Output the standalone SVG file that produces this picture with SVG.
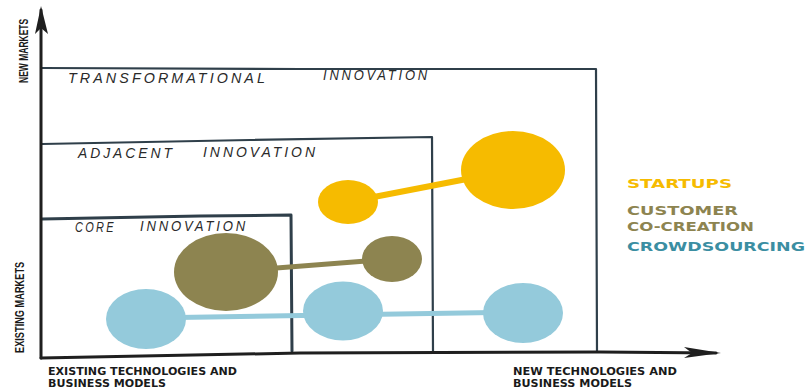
<svg xmlns="http://www.w3.org/2000/svg" width="806" height="389" viewBox="0 0 806 389">
<defs>
<style>
.axis{stroke:#1f1f1f;stroke-width:3;fill:none;stroke-linecap:round}
.box{stroke:#2f3f4a;stroke-width:2.2;fill:none;stroke-linecap:round;stroke-linejoin:round}
.hand{font-family:"Liberation Sans",Arial,sans-serif;font-style:italic;font-size:14px;fill:#2a2a2a;letter-spacing:3px}
.ax{font-family:"Liberation Sans",Arial,sans-serif;font-weight:bold;font-size:13px;fill:#1a1a1a}
.bot{font-family:"DejaVu Sans","Liberation Sans",sans-serif;font-weight:bold;font-size:10.5px;fill:#1a1a1a}
.leg{font-family:"DejaVu Sans","Liberation Sans",sans-serif;font-weight:bold;font-size:13px}
.yel{fill:#F6BB00}.oli{fill:#8D8450}.blu{fill:#94CADB}
.cy{stroke:#F6BB00;stroke-width:6}.co{stroke:#8D8450;stroke-width:5}.cb{stroke:#94CADB;stroke-width:5}
</style>
</defs>
<rect width="806" height="389" fill="#ffffff"/>
<g id="boxes">
<path class="box" d="M42 68 L300 69 L596 69 L597 352 L603 352"/>
<path class="box" d="M42 144 L250 140 L432 137 L433 352"/>
<path class="box" d="M42 219 L200 216 L291 215 L292 351" style="stroke-width:3"/>
</g>
<g id="axes">
<path class="axis" d="M41 358 L41 10"/>
<path d="M41 6 L35 34 L41 28 L48 34 Z" fill="#1f1f1f"/>
<path class="axis" d="M41 358 L300 353 L600 352 L716 353"/>
<path d="M721 353 L684 347 L692 353 L684 358 Z" fill="#1f1f1f"/>
</g>
<g id="box-labels">
<text class="hand" x="68" y="83" textLength="200" lengthAdjust="spacingAndGlyphs">TRANSFORMATIONAL</text>
<text class="hand" x="323" y="80" textLength="107" lengthAdjust="spacingAndGlyphs">INNOVATION</text>
<text class="hand" x="78" y="158" textLength="97" lengthAdjust="spacingAndGlyphs">ADJACENT</text>
<text class="hand" x="203" y="157" textLength="115" lengthAdjust="spacingAndGlyphs">INNOVATION</text>
<text class="hand" x="75" y="232" textLength="41" lengthAdjust="spacingAndGlyphs">CORE</text>
<text class="hand" x="140" y="231" textLength="108" lengthAdjust="spacingAndGlyphs">INNOVATION</text>
</g>
<g id="axis-labels">
<text class="ax" transform="translate(28 83) rotate(-90) scale(0.655 1)" textLength="98" lengthAdjust="spacingAndGlyphs">NEW MARKETS</text>
<text class="ax" transform="translate(23.5 353) rotate(-90) scale(0.656 1)" textLength="139" lengthAdjust="spacingAndGlyphs">EXISTING MARKETS</text>
<text class="bot" x="48" y="375" textLength="189" lengthAdjust="spacingAndGlyphs">EXISTING TECHNOLOGIES AND</text>
<text class="bot" x="48" y="387" textLength="118" lengthAdjust="spacingAndGlyphs">BUSINESS MODELS</text>
<text class="bot" x="513" y="375" textLength="164" lengthAdjust="spacingAndGlyphs">NEW TECHNOLOGIES AND</text>
<text class="bot" x="513" y="387" textLength="119" lengthAdjust="spacingAndGlyphs">BUSINESS MODELS</text>
</g>
<g id="connectors">
<line class="cy" x1="348" y1="202" x2="513" y2="170"/>
<line class="co" x1="226" y1="272" x2="392" y2="259"/>
<line class="cb" x1="146" y1="318" x2="523" y2="312"/>
</g>
<g id="startups-small"><ellipse class="yel" cx="348" cy="202" rx="30" ry="22"/></g>
<g id="startups-large"><ellipse class="yel" cx="513" cy="170" rx="52" ry="39"/></g>
<g id="cocreation-large"><ellipse class="oli" cx="226" cy="272" rx="52" ry="39"/></g>
<g id="cocreation-small"><ellipse class="oli" cx="392" cy="259" rx="30" ry="23"/></g>
<g id="crowd-1"><ellipse class="blu" cx="146" cy="319" rx="40" ry="30"/></g>
<g id="crowd-2"><ellipse class="blu" cx="343" cy="311" rx="40" ry="29.5"/></g>
<g id="crowd-3"><ellipse class="blu" cx="523" cy="313" rx="40" ry="30"/></g>
<g id="legend">
<text class="leg" x="627" y="188" fill="#F6BB00" textLength="105" lengthAdjust="spacingAndGlyphs">STARTUPS</text>
<text class="leg" x="627" y="215" fill="#8D8450" textLength="111" lengthAdjust="spacingAndGlyphs">CUSTOMER</text>
<text class="leg" x="627" y="231" fill="#8D8450" textLength="127" lengthAdjust="spacingAndGlyphs">CO-CREATION</text>
<text class="leg" x="627" y="251" fill="#3B8EA2" textLength="178" lengthAdjust="spacingAndGlyphs">CROWDSOURCING</text>
</g>
</svg>
